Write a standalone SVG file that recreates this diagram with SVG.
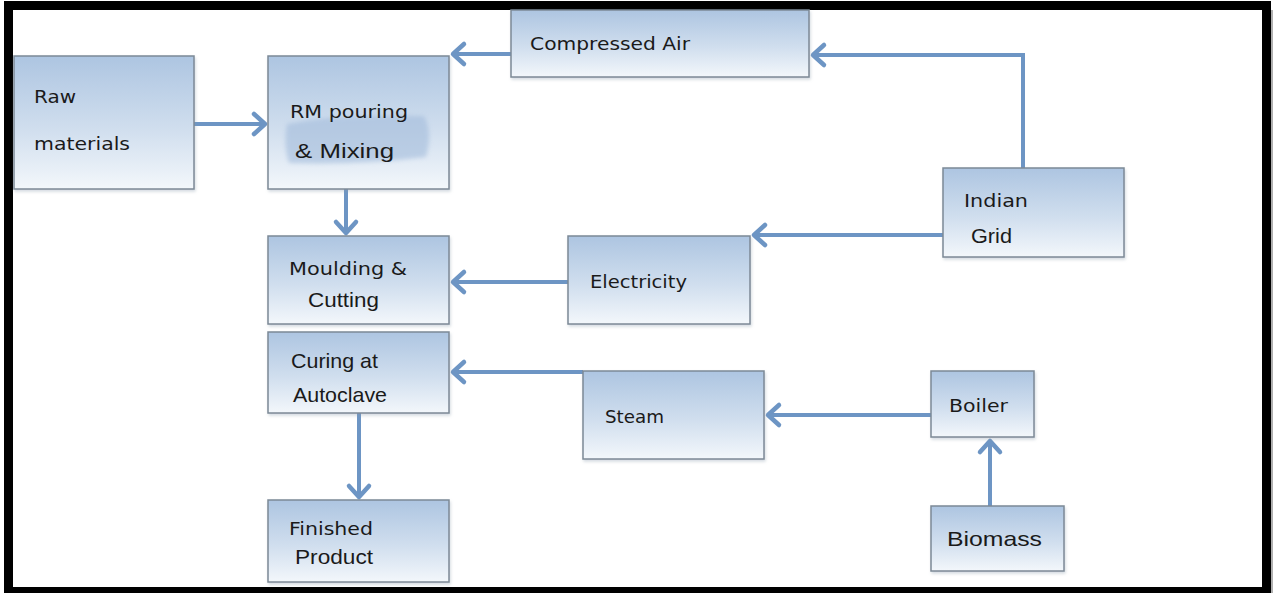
<svg xmlns="http://www.w3.org/2000/svg" width="1275" height="593" viewBox="0 0 1275 593">
  <defs>
    <linearGradient id="boxGrad" x1="0" y1="0" x2="0" y2="1">
      <stop offset="0" stop-color="#adc5e1"/>
      <stop offset="0.55" stop-color="#d0deee"/>
      <stop offset="1" stop-color="#f3f7fb"/>
    </linearGradient>
    <marker id="arrow" markerUnits="userSpaceOnUse" markerWidth="30" markerHeight="30" viewBox="-16 -15 20 30" refX="0" refY="0" orient="auto">
      <path d="M -11,-10 L 0,0 L -11,10" fill="none" stroke="#6d95c4" stroke-width="4.5" stroke-linecap="round" stroke-linejoin="round"/>
    </marker>
    <filter id="shadow" x="-10%" y="-10%" width="120%" height="130%">
      <feDropShadow dx="1" dy="2" stdDeviation="1.5" flood-color="#8899aa" flood-opacity="0.35"/>
    </filter>
    <filter id="blur" x="-20%" y="-20%" width="140%" height="140%">
      <feGaussianBlur stdDeviation="2"/>
    </filter>
  </defs>
  <style>
    .box { fill: url(#boxGrad); stroke: #7c8996; stroke-width: 1.5; filter: url(#shadow); }
    .conn { fill: none; stroke: #6d95c4; stroke-width: 4; marker-end: url(#arrow); }
    .t1 { font-family: "DejaVu Sans", "Liberation Sans", sans-serif; font-size: 18px; fill: #1a1a1a; }
    .t2 { font-family: "Liberation Sans", Arial, sans-serif; font-size: 21px; fill: #1a1a1a; }
  </style>
  <rect x="0" y="0" width="1275" height="593" fill="#ffffff"/>
  <rect x="8.5" y="5.5" width="1258" height="586" fill="none" stroke="#000000" stroke-width="9"/>
  <line x1="1272" y1="10" x2="1272" y2="593" stroke="#b0b0b0" stroke-width="2"/>

  <g id="connectors">
    <path class="conn" d="M194,124 L265,124"/>
    <path class="conn" d="M346,189 L346,233"/>
    <path class="conn" d="M511,54 L453,54"/>
    <path class="conn" d="M1023,168 L1023,55 L813,55"/>
    <path class="conn" d="M943,235 L754,235"/>
    <path class="conn" d="M568,282 L453,282"/>
    <path class="conn" d="M583,372 L453,372"/>
    <path class="conn" d="M931,415 L768,415"/>
    <path class="conn" d="M990,506 L990,441"/>
    <path class="conn" d="M359,413 L359,497"/>
  </g>

  <g id="raw-materials">
    <rect class="box" x="14" y="56" width="180" height="133"/>
    <text class="t1" x="34" y="103" textLength="42" lengthAdjust="spacingAndGlyphs">Raw</text>
    <text class="t1" x="34" y="150" textLength="96" lengthAdjust="spacingAndGlyphs">materials</text>
  </g>

  <g id="rm-pouring-mixing">
    <rect class="box" x="268" y="56" width="181" height="133"/>
    <path d="M287,124 Q330,114 424,116 Q433,132 426,157 Q360,165 289,163 Q283,145 287,124 Z" fill="#a3bcdb" opacity="0.6" filter="url(#blur)"/>
    <text class="t1" x="290" y="118" textLength="118" lengthAdjust="spacingAndGlyphs">RM pouring</text>
    <text class="t2" x="295" y="158" font-size="25" textLength="99" lengthAdjust="spacingAndGlyphs">&amp; Mixing</text>
  </g>

  <g id="compressed-air">
    <rect class="box" x="511" y="10" width="298" height="67"/>
    <text class="t1" x="530" y="50" textLength="160" lengthAdjust="spacingAndGlyphs">Compressed Air</text>
  </g>

  <g id="indian-grid">
    <rect class="box" x="943" y="168" width="181" height="89"/>
    <text class="t1" x="964" y="207" textLength="64" lengthAdjust="spacingAndGlyphs">Indian</text>
    <text class="t2" x="971" y="243" font-size="22" textLength="41" lengthAdjust="spacingAndGlyphs">Grid</text>
  </g>

  <g id="electricity">
    <rect class="box" x="568" y="236" width="182" height="88"/>
    <text class="t1" x="590" y="288" textLength="97" lengthAdjust="spacingAndGlyphs">Electricity</text>
  </g>

  <g id="moulding-cutting">
    <rect class="box" x="268" y="236" width="181" height="88"/>
    <text class="t1" x="289" y="275" textLength="118" lengthAdjust="spacingAndGlyphs">Moulding &amp;</text>
    <text class="t2" x="308" y="307" font-size="22" textLength="71" lengthAdjust="spacingAndGlyphs">Cutting</text>
  </g>

  <g id="curing-autoclave">
    <rect class="box" x="268" y="332" width="181" height="81"/>
    <text class="t2" x="291" y="368" textLength="87" lengthAdjust="spacingAndGlyphs">Curing at</text>
    <text class="t2" x="293" y="402" textLength="94" lengthAdjust="spacingAndGlyphs">Autoclave</text>
  </g>

  <g id="steam">
    <rect class="box" x="583" y="371" width="181" height="88"/>
    <text class="t1" x="605" y="423" textLength="59" lengthAdjust="spacingAndGlyphs">Steam</text>
  </g>

  <g id="boiler">
    <rect class="box" x="931" y="371" width="103" height="66"/>
    <text class="t1" x="949" y="412" textLength="59" lengthAdjust="spacingAndGlyphs">Boiler</text>
  </g>

  <g id="biomass">
    <rect class="box" x="931" y="506" width="133" height="65"/>
    <text class="t2" x="947" y="546" font-size="25" textLength="95" lengthAdjust="spacingAndGlyphs">Biomass</text>
  </g>

  <g id="finished-product">
    <rect class="box" x="268" y="500" width="181" height="82"/>
    <text class="t1" x="289" y="535" textLength="84" lengthAdjust="spacingAndGlyphs">Finished</text>
    <text class="t2" x="295" y="564" font-size="20" textLength="78" lengthAdjust="spacingAndGlyphs">Product</text>
  </g>
</svg>
